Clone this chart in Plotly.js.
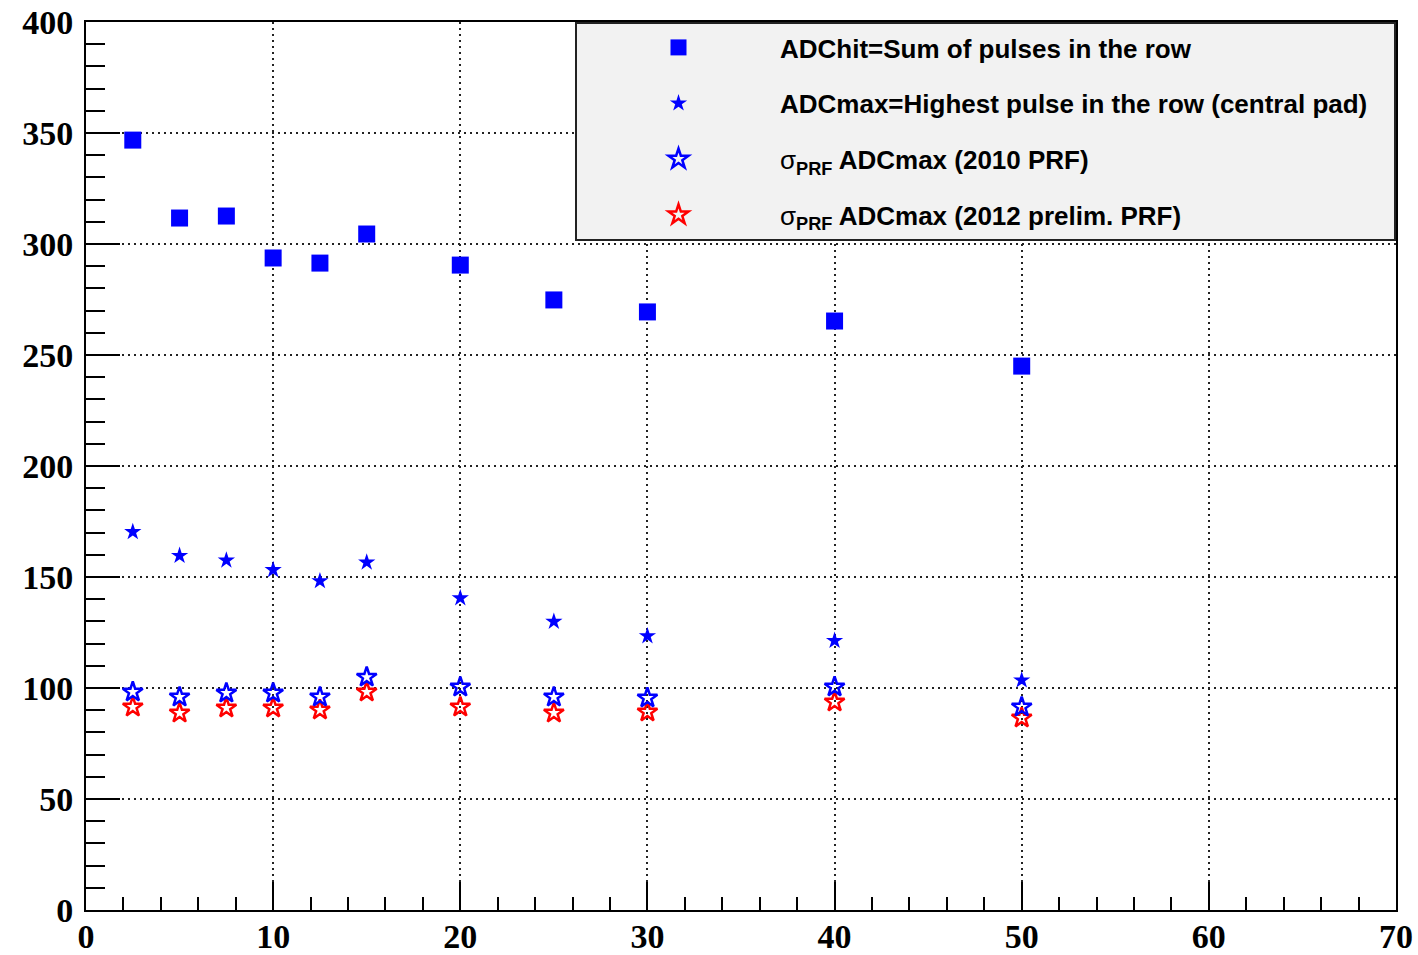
<!DOCTYPE html>
<html>
<head>
<meta charset="utf-8">
<script src="https://cdn.plot.ly/plotly-3.0.1.min.js"></script>
<style>html,body{margin:0;padding:0;background:#fff}#chart{width:1418px;height:955px}</style>
</head>
<body>
<div id="chart"></div>
<script>
const xVals = [2.5, 5, 7.5, 10, 12.5, 15, 20, 25, 30, 40, 50];
const adcHit = [346.8, 311.7, 312.6, 293.7, 291.4, 304.5, 290.5, 274.8, 269.4, 265.3, 245];
const adcMax = [170.3, 159.6, 157.5, 153.2, 148.2, 156.6, 140.5, 129.9, 123.4, 121.3, 103.5];
const sigma2010 = [98.2, 95.9, 97.7, 97.7, 95.9, 104.9, 100.4, 95.9, 95.5, 100.5, 91.4];
const sigma2012 = [91.4, 88.7, 91.0, 91.0, 90.1, 98.2, 91.4, 88.7, 89.2, 93.7, 86.5];
const names = [
  'ADChit=Sum of pulses in the row',
  'ADCmax=Highest pulse in the row (central pad)\u00A0\u00A0\u00A0',
  '<span style="font-weight:normal">σ</span><sub>PRF</sub> ADCmax (2010 PRF)',
  '<span style="font-weight:normal">σ</span><sub>PRF</sub> ADCmax (2012 prelim. PRF)'
];

const traces = [
  {x: xVals, y: adcHit, name: names[0], legendgroup: 'a', mode: 'markers', type: 'scatter',
   marker: {symbol: 'square', size: 17, color: '#0000ff'}},
  {x: xVals, y: adcMax, name: names[1], legendgroup: 'b', mode: 'markers', type: 'scatter',
   marker: {symbol: 'star', size: 13, color: '#0000ff'}},
  {x: xVals, y: sigma2012, name: names[3], legendgroup: 'd', mode: 'markers', type: 'scatter', showlegend: false,
   marker: {symbol: 'star-open', size: 15, color: '#ff0000', line: {width: 2.5, color: '#ff0000'}}},
  {x: xVals, y: sigma2010, name: names[2], legendgroup: 'c', mode: 'markers', type: 'scatter',
   marker: {symbol: 'star-open', size: 15, color: '#0000ff', line: {width: 2.5, color: '#0000ff'}}},
  {x: [null], y: [null], name: names[3], legendgroup: 'd', mode: 'markers', type: 'scatter',
   marker: {symbol: 'star-open', size: 15, color: '#ff0000', line: {width: 2.5, color: '#ff0000'}}}
];

const tickFont = {family: 'Liberation Serif, serif', size: 34, color: '#000'};
const layout = {
  width: 1418, height: 955,
  margin: {l: 86, r: 22, t: 22, b: 45},
  paper_bgcolor: '#fff', plot_bgcolor: '#fff',
  showlegend: true,
  xaxis: {
    range: [0, 70], dtick: 10, tick0: 0,
    showline: true, linecolor: '#000', linewidth: 2, mirror: true,
    ticks: 'inside', ticklen: 28, tickwidth: 2, tickcolor: '#000',
    minor: {dtick: 2, ticks: 'inside', ticklen: 13, tickwidth: 2, tickcolor: '#000', showgrid: false},
    showgrid: true, gridcolor: '#222', griddash: '2px,4px', gridwidth: 2,
    zeroline: false, tickfont: tickFont, fixedrange: true, ticklabelstandoff: -5,
    tickprefix: '<b>', ticksuffix: '</b>'
  },
  yaxis: {
    range: [0, 400], dtick: 50, tick0: 0,
    showline: true, linecolor: '#000', linewidth: 2, mirror: true,
    ticks: 'inside', ticklen: 34, tickwidth: 2, tickcolor: '#000',
    minor: {dtick: 10, ticks: 'inside', ticklen: 19, tickwidth: 2, tickcolor: '#000', showgrid: false},
    showgrid: true, gridcolor: '#222', griddash: '2px,4px', gridwidth: 2,
    zeroline: false, tickfont: tickFont, fixedrange: true, ticklabelstandoff: 4,
    tickprefix: '<b>', ticksuffix: '</b>'
  },
  legend: {
    x: 1, xanchor: 'right', y: 1, yanchor: 'top',
    bgcolor: '#f2f2f2', bordercolor: '#222', borderwidth: 2,
    font: {family: 'Liberation Sans, Arial, sans-serif', size: 26, color: '#000', weight: 'bold'},
    traceorder: 'grouped', tracegroupgap: 19, itemwidth: 193,
    itemclick: false, itemdoubleclick: false
  }
};

Plotly.newPlot('chart', traces, layout, {displayModeBar: false, staticPlot: true});
</script>
</body>
</html>
